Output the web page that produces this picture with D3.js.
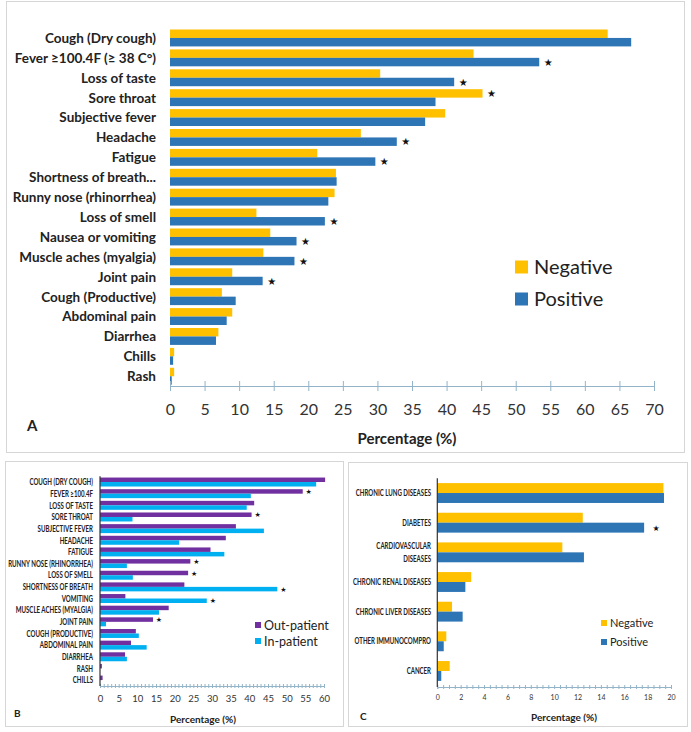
<!DOCTYPE html>
<html>
<head>
<meta charset="utf-8">
<script src="https://cdnjs.cloudflare.com/ajax/libs/d3/7.8.5/d3.min.js"></script>
<style>
  body { margin: 0; background: #fff; }
  svg { display: block; }
</style>
</head>
<body>
<svg width="691" height="732"></svg>
<script>
// ---- panel A: symptoms by test result
var symptomsA = ['Cough (Dry cough)', 'Fever \u2265100.4F (\u2265 38 C\u00b0)', 'Loss of taste', 'Sore throat',
  'Subjective fever', 'Headache', 'Fatigue', 'Shortness of breath...', 'Runny nose (rhinorrhea)',
  'Loss of smell', 'Nausea or vomiting', 'Muscle aches (myalgia)', 'Joint pain', 'Cough (Productive)',
  'Abdominal pain', 'Diarrhea', 'Chills', 'Rash'];
var negativeA = [63.3, 43.9, 30.4, 45.2, 39.8, 27.6, 21.3, 24.0, 23.8, 12.5, 14.5, 13.5, 9.0, 7.5, 9.0, 7.0, 0.6, 0.6];
var positiveA = [66.7, 53.4, 41.1, 38.4, 36.9, 32.8, 29.7, 24.1, 22.9, 22.4, 18.3, 18.0, 13.4, 9.5, 8.2, 6.65, 0.45, 0.25];
var starsA = [null, 1, 1, 0, null, 1, 1, null, null, 1, 1, 1, 1, null, null, null, null, null];

// ---- panel B: symptoms by patient type
var symptomsB = ['COUGH (DRY COUGH)', 'FEVER \u2265100.4F', 'LOSS OF TASTE', 'SORE THROAT', 'SUBJECTIVE FEVER',
  'HEADACHE', 'FATIGUE', 'RUNNY NOSE (RHINORRHEA)', 'LOSS OF SMELL', 'SHORTNESS OF BREATH', 'VOMITING',
  'MUSCLE ACHES (MYALGIA)', 'JOINT PAIN', 'COUGH (PRODUCTIVE)', 'ABDOMINAL PAIN', 'DIARRHEA', 'RASH', 'CHILLS'];
var outPatientB = [60.3, 54.3, 41.3, 40.6, 36.4, 33.7, 29.6, 24.2, 23.6, 22.6, 6.8, 18.4, 14.2, 9.6, 8.3, 6.7, 0.5, 0.7];
var inPatientB = [57.9, 40.4, 39.3, 8.7, 43.9, 21.2, 33.3, 7.2, 8.8, 47.5, 28.6, 15.8, 1.6, 10.4, 12.5, 7.2, 0, 0];
var starsB = [null, 0, null, 0, null, null, null, 0, 0, 1, 1, null, 0, null, null, null, null, null];

// ---- panel C: comorbidities by test result
var conditionsC = ['CHRONIC LUNG DISEASES', 'DIABETES', 'CARDIOVASCULAR\nDISEASES', 'CHRONIC RENAL DISEASES',
  'CHRONIC LIVER DISEASES', 'OTHER IMMUNOCOMPRO', 'CANCER'];
var negativeC = [19.35, 12.45, 10.7, 2.9, 1.26, 0.77, 1.06];
var positiveC = [19.4, 17.7, 12.55, 2.4, 2.17, 0.55, 0.34];
var starsC = [null, 1, null, null, null, null, null];

var yellow = '#FFC000', blue = '#2E75B6', purple = '#7030A0', cyan = '#00B0F0';
var axisColor = '#93b4c8';

var svg = d3.select('svg');

// panel frames
svg.append('rect').attr('x', 6.5).attr('y', 1.5).attr('width', 678).attr('height', 451)
  .attr('fill', 'none').attr('stroke', '#d6d6d6');
svg.append('rect').attr('x', 5.5).attr('y', 461.5).attr('width', 338).attr('height', 265)
  .attr('fill', 'none').attr('stroke', '#d6d6d6');
svg.append('rect').attr('x', 348.5).attr('y', 462.5).attr('width', 339).attr('height', 264)
  .attr('fill', 'none').attr('stroke', '#d6d6d6');

function barPanel(o) {
  var g = svg.append('g');
  var x = d3.scaleLinear().domain(o.xDomain).range(o.xRange);
  var y = d3.scaleBand().domain(o.cats).range(o.yRange).paddingInner(o.pad).paddingOuter(o.pad / 2);
  var inner = d3.scaleBand().domain([0, 1]).range([0, y.bandwidth()]);

  o.series.forEach(function(s, si) {
    g.selectAll(null)
      .data(s.values)
      .enter()
      .append('rect')
      .attr('x', x(0))
      .attr('y', function(d, i) { return y(o.cats[i]) + inner(si); })
      .attr('width', function(d) { return x(d) - x(0); })
      .attr('height', inner.bandwidth())
      .attr('fill', s.color);
  });

  // significance stars, next to the longer bar
  o.stars.forEach(function(d, i) {
    if (d === null) return;
    var v = Math.max(o.series[0].values[i], o.series[1].values[i]);
    g.append('text')
      .attr('x', x(v) + o.starGap)
      .attr('y', y(o.cats[i]) + inner(d) + inner.bandwidth() / 2)
      .attr('dy', '0.38em')
      .attr('text-anchor', 'middle')
      .style('font-family', 'DejaVu Sans')
      .style('font-size', o.starSize + 'px')
      .attr('fill', '#111')
      .text('\u2605');
  });

  // category labels
  var lab = g.append('g')
    .attr('transform', 'translate(' + o.labelX + ',0) scale(' + o.labelScale + ',1)');
  o.cats.forEach(function(c) {
    var lines = c.split('\n');
    var cy = y(c) + y.bandwidth() / 2;
    var t = lab.append('text')
      .attr('text-anchor', 'end')
      .attr('fill', '#222')
      .style('font-family', 'Lato')
      .style('font-weight', 'bold')
      .style('font-size', o.labelSize + 'px');
    lines.forEach(function(line, li) {
      t.append('tspan')
        .attr('x', 0)
        .attr('y', cy + (li - (lines.length - 1) / 2) * o.labelSize * 1.6)
        .attr('dy', '0.36em')
        .text(line);
    });
  });

  // x axis
  var ax = g.append('g')
    .attr('transform', 'translate(0,' + o.axisY + ')')
    .call(d3.axisBottom(x)
      .tickValues(o.ticks)
      .tickSizeOuter(0)
      .tickSize(o.tickLen)
      .tickPadding(o.tickPad)
      .tickFormat(function(d) { return o.tickLabel(d) ? d3.format('d')(d) : ''; }));
  ax.select('.domain').attr('stroke', axisColor);
  ax.selectAll('.tick line').attr('stroke', axisColor).attr('y1', -o.tickLen);
  ax.selectAll('.tick text')
    .attr('fill', '#333')
    .style('font-family', 'Lato')
    .style('font-size', o.tickSize + 'px');

  if (o.yLine) {
    g.append('line')
      .attr('x1', x(0)).attr('x2', x(0))
      .attr('y1', o.yRange[0]).attr('y2', o.axisY)
      .attr('stroke', '#333').attr('stroke-width', 1.2);
  }

  // axis title
  g.append('text')
    .attr('x', o.titleX).attr('y', o.titleY)
    .attr('text-anchor', 'middle')
    .attr('fill', '#222')
    .style('font-family', 'Lato')
    .style('font-weight', 'bold')
    .style('font-size', o.titleSize + 'px')
    .text('Percentage (%)');

  // panel letter
  g.append('text')
    .attr('x', o.letter[1]).attr('y', o.letter[2])
    .attr('fill', '#222')
    .style('font-family', 'Lato')
    .style('font-weight', 'bold')
    .style('font-size', o.letterSize + 'px')
    .text(o.letter[0]);

  // legend
  var leg = g.append('g');
  o.series.forEach(function(s, si) {
    var ly = o.legend.y + si * o.legend.dy;
    leg.append('rect')
      .attr('x', o.legend.x).attr('y', ly - o.legend.box / 2)
      .attr('width', o.legend.box).attr('height', o.legend.box)
      .attr('fill', s.color);
    leg.append('text')
      .attr('x', o.legend.x + o.legend.box + o.legend.gap).attr('y', ly)
      .attr('dy', '0.36em')
      .attr('fill', '#222')
      .style('font-family', 'Lato')
      .style('font-size', o.legend.size + 'px')
      .text(s.name);
  });
}

barPanel({
  cats: symptomsA,
  series: [{name: 'Negative', values: negativeA, color: yellow}, {name: 'Positive', values: positiveA, color: blue}],
  stars: starsA, starGap: 9, starSize: 10,
  xDomain: [0, 70], xRange: [170, 654],
  yRange: [28, 386.2], pad: 0.15,
  labelX: 156, labelScale: 1, labelSize: 13.5,
  axisY: 386, ticks: d3.range(0, 71, 5), tickLabel: function() { return true; },
  tickLen: 5, tickPad: 13, tickSize: 16,
  titleX: 407, titleY: 444, titleSize: 15,
  letter: ['A', 27, 431], letterSize: 15,
  legend: {x: 515, y: 267, dy: 32, box: 13, gap: 6, size: 20}
});

barPanel({
  cats: symptomsB,
  series: [{name: 'Out-patient', values: outPatientB, color: purple}, {name: 'In-patient', values: inPatientB, color: cyan}],
  stars: starsB, starGap: 6, starSize: 7,
  xDomain: [0, 60], xRange: [100, 324],
  yRange: [476.2, 685.9], pad: 0.23,
  labelX: 93, labelScale: 0.68, labelSize: 9,
  axisY: 686, yLine: true, ticks: d3.range(0, 61, 1), tickLabel: function(d) { return d % 5 === 0; },
  tickLen: 2, tickPad: 7, tickSize: 9.5,
  titleX: 203, titleY: 723, titleSize: 10,
  letter: ['B', 14, 717], letterSize: 10,
  legend: {x: 255, y: 625, dy: 16, box: 6, gap: 3, size: 12.5}
});

barPanel({
  cats: conditionsC,
  series: [{name: 'Negative', values: negativeC, color: yellow}, {name: 'Positive', values: positiveC, color: blue}],
  stars: starsC, starGap: 12, starSize: 8,
  xDomain: [0, 20], xRange: [437.3, 671],
  yRange: [478.2, 685.8], pad: 0.33,
  labelX: 431, labelScale: 0.7, labelSize: 8.7,
  axisY: 687, yLine: true, ticks: d3.range(0, 20.01, 0.5), tickLabel: function(d) { return d % 2 === 0; },
  tickLen: 2, tickPad: 6, tickSize: 7,
  titleX: 564, titleY: 721, titleSize: 10,
  letter: ['C', 360, 720], letterSize: 10,
  legend: {x: 601, y: 623, dy: 19, box: 6, gap: 3, size: 11}
});
</script>
</body>
</html>
